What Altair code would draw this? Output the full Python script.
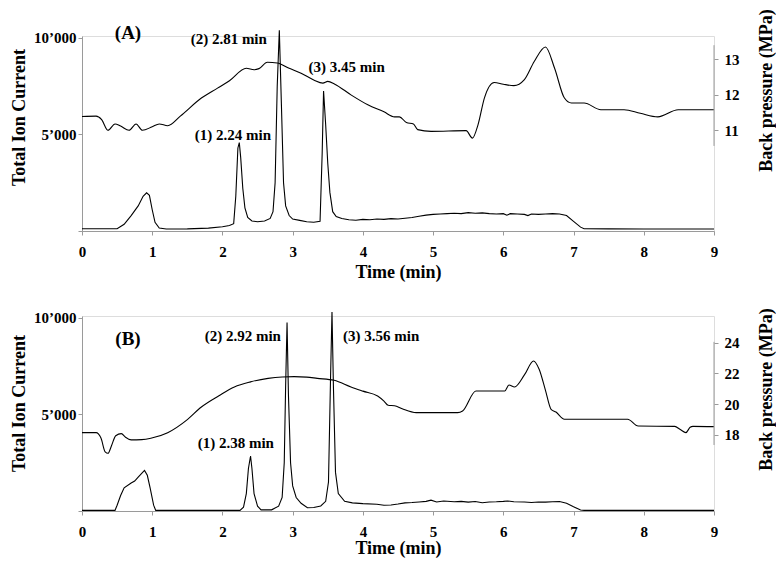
import altair as alt
import pandas as pd

# ---------------- Panel A data ----------------
TIC_A_T = [0, 0.5, 0.6, 0.7, 0.8, 0.87, 0.92, 0.96, 1.0, 1.04, 1.1, 1.2, 1.5, 1.8, 2.0, 2.1, 2.16, 2.19,
           2.22, 2.24, 2.26, 2.29, 2.32, 2.36, 2.42, 2.5, 2.6, 2.68, 2.72, 2.75, 2.78, 2.81, 2.84, 2.87,
           2.9, 2.95, 3.0, 3.1, 3.2, 3.3, 3.39, 3.42, 3.44, 3.47, 3.5, 3.53, 3.57, 3.62, 3.7, 3.8, 3.9,
           4.0, 4.1, 4.2, 4.3, 4.4, 4.5, 4.6, 4.7, 4.8, 4.9, 5.0, 5.1, 5.2, 5.3, 5.4, 5.5, 5.6, 5.7, 5.8,
           5.9, 6.0, 6.05, 6.1, 6.2, 6.3, 6.35, 6.4, 6.5, 6.6, 6.7, 6.8, 6.9, 7.0, 7.1, 7.15, 7.5, 8.0, 9.0]
TIC_A_V = [120, 120, 350, 800, 1300, 1800, 1980, 1850, 1100, 450, 150, 100, 110, 150, 220, 280, 380, 1800,
           4300, 4580, 3800, 2200, 1200, 700, 520, 480, 520, 650, 1000, 2500, 7500, 10400, 6500, 2500,
           1300, 800, 620, 550, 480, 450, 500, 4000, 7250, 5500, 3500, 2000, 1000, 750, 650, 580, 560,
           600, 580, 620, 600, 640, 620, 660, 700, 760, 820, 860, 880, 900, 920, 900, 950, 920, 940, 900,
           880, 900, 820, 900, 880, 860, 800, 880, 860, 880, 900, 880, 800, 500, 200, 120, 110, 100, 100]

P_A_T = [0, 0.2, 0.28, 0.37, 0.47, 0.55, 0.67, 0.77, 0.86, 1.0, 1.1, 1.22, 1.4, 1.7, 1.93, 2.1, 2.34,
         2.45, 2.52, 2.64, 2.78, 2.95, 3.12, 3.3, 3.43, 3.5, 3.6, 3.83, 4.07, 4.3, 4.45, 4.52, 4.62, 4.72,
         4.78, 4.97, 5.47, 5.56, 5.64, 5.73, 5.87, 6.0, 6.15, 6.3, 6.44, 6.6, 6.73, 6.87, 6.97, 7.15, 7.39,
         7.72, 7.95, 8.2, 8.49, 9.0]
P_A_V = [11.39, 11.4, 11.3, 11.0, 11.18, 11.12, 11.0, 11.18, 11.0, 11.1, 11.18, 11.13, 11.4, 11.91, 12.19,
         12.4, 12.75, 12.71, 12.74, 12.92, 12.9, 12.75, 12.61, 12.42, 12.33, 12.38, 12.3, 12.0, 11.72, 11.52,
         11.38, 11.38, 11.22, 11.18, 11.02, 10.97, 10.99, 10.78, 11.16, 11.91, 12.35, 12.3, 12.26, 12.43,
         12.94, 13.35, 12.75, 11.91, 11.77, 11.77, 11.58, 11.58, 11.48, 11.38, 11.58, 11.58]

# ---------------- Panel B data ----------------
TIC_B_T = [0, 0.47, 0.5, 0.55, 0.6, 0.7, 0.75, 0.8, 0.85, 0.89, 0.93, 0.97, 1.02, 1.05, 2.25, 2.3, 2.34,
           2.37, 2.4, 2.42, 2.45, 2.5, 2.55, 2.7, 2.8, 2.85, 2.88, 2.9, 2.92, 2.94, 2.97, 3.0, 3.05, 3.12,
           3.21, 3.3, 3.4, 3.47, 3.51, 3.54, 3.56, 3.58, 3.61, 3.65, 3.74, 3.85, 4.0, 4.2, 4.3, 4.4, 4.5,
           4.6, 4.7, 4.8, 4.9, 4.97, 5.05, 5.15, 5.3, 5.4, 5.5, 5.6, 5.7, 5.8, 5.9, 6.0, 6.06, 6.15, 6.3,
           6.4, 6.5, 6.6, 6.7, 6.8, 6.9, 7.0, 7.1, 7.15, 9.0]
TIC_B_V = [30, 30, 300, 800, 1200, 1450, 1550, 1750, 1950, 2100, 1850, 1200, 300, 30, 30, 200, 900,
           2200, 2850, 2200, 900, 250, 60, 60, 250, 700, 2500, 6500, 9760, 6000, 2500, 1300, 700, 400,
           170, 180, 260, 500, 1500, 7000, 10310, 6500, 2000, 900, 500, 420, 380, 350, 300, 310, 360,
           420, 440, 470, 500, 560, 470, 520, 480, 500, 460, 490, 430, 470, 480, 500, 520, 480, 470,
           440, 470, 460, 480, 490, 400, 220, 50, 30, 30]

P_B_T = [0, 0.2, 0.27, 0.33, 0.37, 0.42, 0.48, 0.56, 0.62, 0.7, 0.85, 0.98, 1.22, 1.5, 1.7, 1.95, 2.17,
         2.4, 2.65, 2.85, 3.02, 3.2, 3.35, 3.59, 3.83, 4.0, 4.21, 4.3, 4.36, 4.45, 4.56, 4.76, 5.35, 5.42,
         5.61, 6.02, 6.08, 6.16, 6.3, 6.43, 6.51, 6.6, 6.68, 6.75, 6.87, 7.77, 7.92, 8.44, 8.52, 8.6, 8.66,
         8.7, 9.0]
P_B_V = [18.15, 18.15, 17.8, 16.9, 16.81, 17.3, 17.95, 18.09, 17.85, 17.68, 17.7, 17.79, 18.15, 19.0,
         19.82, 20.55, 21.12, 21.45, 21.68, 21.77, 21.79, 21.76, 21.68, 21.55, 21.12, 20.85, 20.53, 20.2,
         19.93, 19.9, 19.7, 19.45, 19.45, 19.56, 20.86, 20.86, 21.25, 21.12, 21.9, 22.81, 22.27, 20.9,
         19.67, 19.49, 19.02, 19.02, 18.58, 18.56, 18.35, 18.15, 18.5, 18.56, 18.54]

# ---------------- Labels ----------------
LAB_A_TEXT = ["(2) 2.81 min", "(3) 3.45 min", "(1) 2.24 min"]
LAB_A_T = [2.09, 3.77, 2.15]
LAB_A_V = [9944, 8494, 4972]
LAB_B_TEXT = ["(2) 2.92 min", "(3) 3.56 min", "(1) 2.38 min"]
LAB_B_T = [2.29, 4.26, 2.19]
LAB_B_V = [9063, 9063, 3537]
PANEL_TAGS = ["(A)", "(B)"]
TAG_T = [0.655, 0.655]
TAG_V = [10255, 8908]

X_TICKS = list(range(10))
TIC_TICKS = [0, 5000, 10000]
P_TICKS_A = [11, 12, 13]
P_TICKS_B = [18, 20, 22, 24]

FONT = "Liberation Serif"
W, H = 632, 195
AXIS_COLOR = "#9a9a9a"


def panel(tic_t, tic_v, p_t, p_v, p_dom, p_ticks, p_axis_span, lab_text, lab_t, lab_v,
          tag, tag_t, tag_v, left_title_y, right_title_y, x_title_y):
    tic_df = pd.DataFrame({"t": tic_t, "v": tic_v})
    p_df = pd.DataFrame({"t": p_t, "p": p_v})
    lab_df = pd.DataFrame({"t": lab_t, "v": lab_v, "txt": lab_text})
    tag_df = pd.DataFrame({"t": [tag_t], "v": [tag_v], "txt": [tag]})
    rule_df = pd.DataFrame({"t": [9.0], "p": [p_axis_span[0]], "p2": [p_axis_span[1]]})

    x_enc = alt.X("t:Q", scale=alt.Scale(domain=[0, 9], nice=False),
                  axis=alt.Axis(values=X_TICKS, title="Time (min)", grid=False, labelFlush=False,
                                domainColor=AXIS_COLOR, tickColor=AXIS_COLOR, tickSize=4,
                                labelPadding=9, labelFont=FONT, labelFontSize=15,
                                labelFontWeight="bold", labelColor="black",
                                titleFont=FONT, titleFontSize=18, titleFontWeight="bold",
                                titleColor="black", titleY=x_title_y, titleBaseline="middle"))
    tic_scale = alt.Scale(domain=[0, 10100], nice=False, zero=False)
    left_axis = alt.Axis(values=TIC_TICKS, grid=False, title="Total Ion Current",
                         labelExpr="datum.value == 0 ? '' : replace(format(datum.value, ','), ',', '\u2019')",
                         domainColor=AXIS_COLOR, tickColor=AXIS_COLOR, tickSize=4, labelPadding=2,
                         labelFont=FONT, labelFontSize=15, labelFontWeight="bold", labelColor="black",
                         titleFont=FONT, titleFontSize=18, titleFontWeight="bold", titleColor="black",
                         titleAngle=270, titleBaseline="middle", titleX=-63, titleY=left_title_y)
    p_scale = alt.Scale(domain=p_dom, nice=False, zero=False)
    right_axis = alt.Axis(orient="right", values=p_ticks, grid=False, domain=False,
                          title="Back pressure (MPa)", tickColor=AXIS_COLOR, tickSize=4,
                          labelPadding=6, labelFont=FONT, labelFontSize=15, labelFontWeight="bold",
                          labelColor="black", titleFont=FONT, titleFontSize=18, titleFontWeight="bold",
                          titleColor="black", titleAngle=270, titleBaseline="middle", titleX=52,
                          titleY=right_title_y)

    tic_line = alt.Chart(tic_df).mark_line(color="black", strokeWidth=1.1).encode(
        x=x_enc, y=alt.Y("v:Q", scale=tic_scale, axis=left_axis))
    labels = alt.Chart(lab_df).mark_text(font=FONT, fontSize=15, fontWeight="bold", color="black").encode(
        x=x_enc, y=alt.Y("v:Q", scale=tic_scale, axis=left_axis), text="txt:N")
    tag_mark = alt.Chart(tag_df).mark_text(font=FONT, fontSize=19, fontWeight="bold", color="black").encode(
        x=x_enc, y=alt.Y("v:Q", scale=tic_scale, axis=left_axis), text="txt:N")
    left = alt.layer(tic_line, labels, tag_mark)

    p_line = alt.Chart(p_df).mark_line(color="black", strokeWidth=1.1, interpolate="monotone").encode(
        x=x_enc, y=alt.Y("p:Q", scale=p_scale, axis=right_axis))
    p_rule = alt.Chart(rule_df).mark_rule(color=AXIS_COLOR, strokeWidth=1).encode(
        x=x_enc, y=alt.Y("p:Q", scale=p_scale, axis=right_axis), y2="p2:Q")
    right = alt.layer(p_line, p_rule)

    return alt.layer(left, right).resolve_scale(y="independent").properties(width=W, height=H)


panel_a = panel(TIC_A_T, TIC_A_V, P_A_T, P_A_V, [8.16, 13.66], P_TICKS_A, [10.56, 13.4],
                LAB_A_TEXT, LAB_A_T, LAB_A_V, PANEL_TAGS[0], TAG_T[0], TAG_V[0], 81, 54, 41)
panel_b = panel(TIC_B_T, TIC_B_V, P_B_T, P_B_V, [13.06, 25.73], P_TICKS_B, [17.35, 24.05],
                LAB_B_TEXT, LAB_B_T, LAB_B_V, PANEL_TAGS[1], TAG_T[1], TAG_V[1], 87, 73, 37)

chart = alt.vconcat(panel_a, panel_b, spacing=85, bounds="flush").properties(
    padding={"left": 1, "top": 0, "right": 0, "bottom": 0}
).configure_view(stroke=None).configure(background="white")

chart.save("out.html", embed_options={"renderer": "svg", "actions": False})
